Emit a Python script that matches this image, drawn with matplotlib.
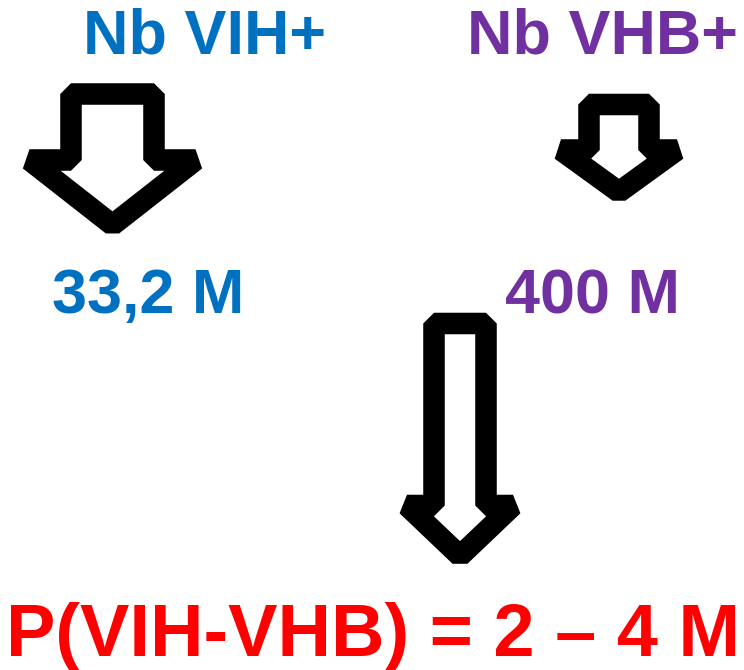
import matplotlib.pyplot as plt
from matplotlib.patches import Polygon

plt.rcParams['font.family'] = ['Liberation Sans', 'DejaVu Sans']

# texts of the diagram
top_labels = ['Nb VIH+', 'Nb VHB+']
top_colors = ['#0070C0', '#7030A0']
mid_labels = ['33,2 M', '400 M']
result_label = 'P(VIH-VHB) = 2 \u2013 4 M'
result_color = '#FF0000'

W, H = 744, 670
fig = plt.figure(figsize=(W / 100, H / 100), dpi=100)
ax = fig.add_axes([0, 0, 1, 1])
ax.set_xlim(0, W)
ax.set_ylim(H, 0)
ax.axis('off')


def down_arrow(cx, top, wing_y, tip_y, shaft_half, wing_half):
    pts = [(cx - shaft_half, top), (cx + shaft_half, top),
           (cx + shaft_half, wing_y), (cx + wing_half, wing_y),
           (cx, tip_y), (cx - wing_half, wing_y),
           (cx - shaft_half, wing_y)]
    ax.add_patch(Polygon(pts, closed=True, facecolor='white', edgecolor='black',
                         lw=15.5, joinstyle='bevel'))


down_arrow(112.5, 94, 160, 225, 41.5, 83)
down_arrow(619, 104.5, 150, 192, 30, 58)
down_arrow(460, 323.5, 505.5, 556, 26, 53)

fs = 45.3
ax.text(83, 53, top_labels[0], color=top_colors[0], fontsize=fs,
        fontweight='bold', ha='left', va='baseline')
ax.text(467, 53, top_labels[1], color=top_colors[1], fontsize=fs,
        fontweight='bold', ha='left', va='baseline')
ax.text(52, 313, mid_labels[0], color=top_colors[0], fontsize=fs,
        fontweight='bold', ha='left', va='baseline')
ax.text(505, 313, mid_labels[1], color=top_colors[1], fontsize=fs,
        fontweight='bold', ha='left', va='baseline')
ax.text(6, 656, result_label, color=result_color, fontsize=53.3,
        fontweight='bold', ha='left', va='baseline')

fig.savefig('out.png', dpi=100)
